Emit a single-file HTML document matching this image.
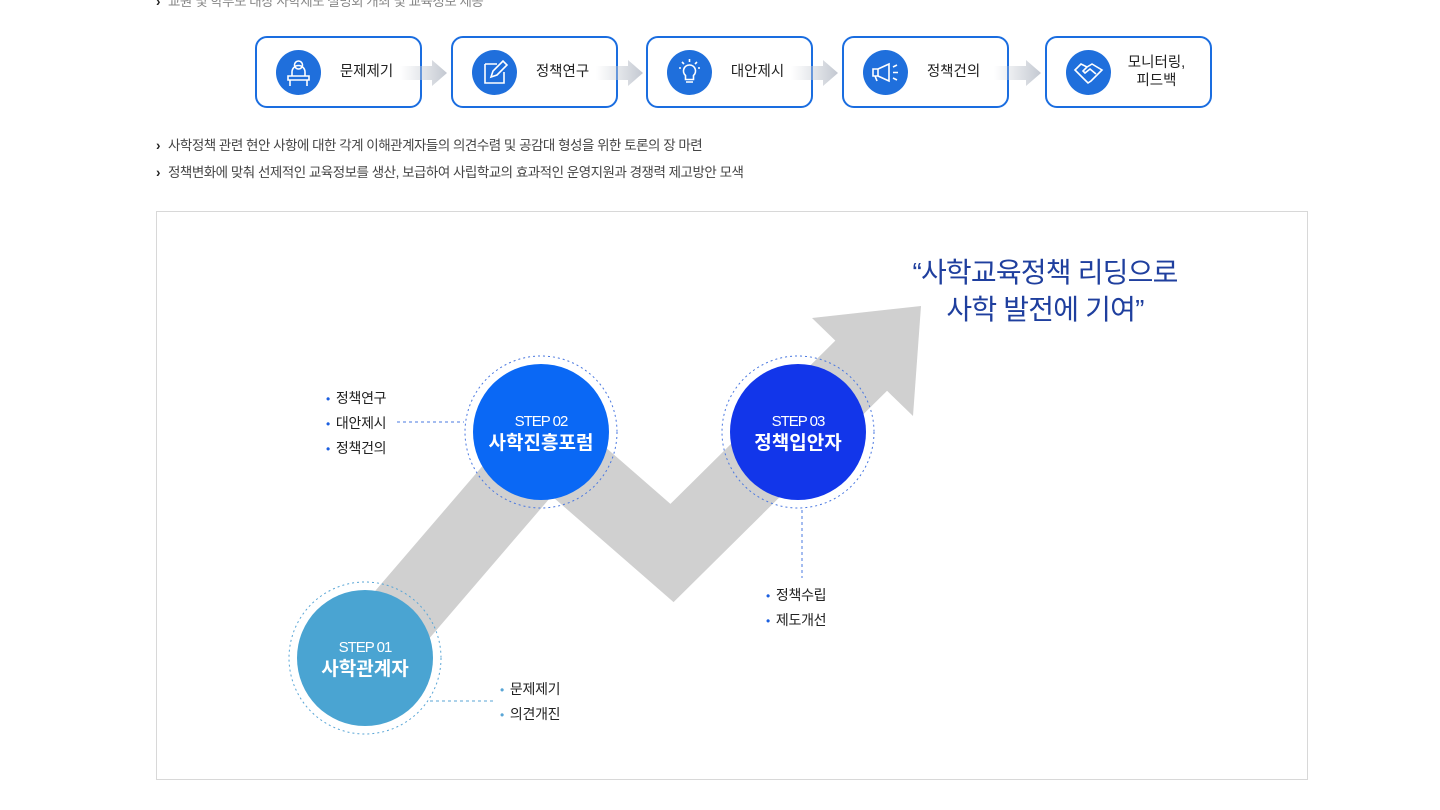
<!DOCTYPE html>
<html><head><meta charset="utf-8"><style>
body{margin:0;width:1440px;height:810px;background:#fff;overflow:hidden;font-family:"Liberation Sans","Noto Sans CJK KR",sans-serif;position:relative}
.abs{position:absolute}
.box{position:absolute;top:36px;border:2px solid #1a6de0;border-radius:12px;box-sizing:border-box;width:167px;height:72px}
.ic{position:absolute;left:19px;top:12px;width:45px;height:45px;border-radius:50%;background:#1f6fdc}
.bt{position:absolute;left:70px;right:14px;top:0;bottom:0;display:flex;align-items:center;justify-content:center;text-align:center;font-size:14.5px;color:#222;line-height:18px}
.arr{position:absolute;top:61px;width:48px;height:24px}
.li{position:absolute;left:156px;font-size:13.5px;color:#444;letter-spacing:-0.5px}
.li:before{content:"›";font-weight:bold;margin-right:8px;color:#222}
.frame{position:absolute;left:156px;top:211px;width:1152px;height:569px;border:1px solid #d8d8d8;box-sizing:border-box}
.lab{position:absolute;font-size:14px;color:#222;line-height:24px;letter-spacing:-0.3px}
.lab span{color:#1b5fe0;margin-right:6px;font-size:12px}
</style></head><body>
<div class="li" style="top:-10px;color:#888">교원 및 학부모 대상 사학제도 설명회 개최 및 교육정보 제공</div>

<div class="box" style="left:255px"><div class="ic"><svg width="45" height="45" viewBox="0 0 45 45" fill="none" stroke="#fff" stroke-width="1.6"><circle cx="22.5" cy="15" r="4"/><path d="M16 26v-4a6.5 6.5 0 0 1 13 0v4"/><path d="M12 26h21v4H12z M14 30v6 M31 30v6"/></svg></div><div class="bt">문제제기</div></div>
<div class="box" style="left:451px"><div class="ic"><svg width="45" height="45" viewBox="0 0 45 45" fill="none" stroke="#fff" stroke-width="1.6"><path d="M13 14h12 M13 14v19h19V22"/><path d="M19 27l2-6 10-10 4 4-10 10z"/></svg></div><div class="bt">정책연구</div></div>
<div class="box" style="left:646px"><div class="ic"><svg width="45" height="45" viewBox="0 0 45 45" fill="none" stroke="#fff" stroke-width="1.6"><path d="M22.5 15a6 6 0 0 0-4 10.5v4h8v-4a6 6 0 0 0-4-10.5z M19 32h7 M22.5 9v3 M15 12l2 2 M30 12l-2 2 M12 18h2 M31 18h2"/></svg></div><div class="bt">대안제시</div></div>
<div class="box" style="left:842px"><div class="ic"><svg width="45" height="45" viewBox="0 0 45 45" fill="none" stroke="#fff" stroke-width="1.6"><path d="M10 19h5v7h-5z M15 19l11-5v17l-11-5 M12 26l2 5 M30 17l4-2 M30 22.5h5 M30 28l4 2"/></svg></div><div class="bt">정책건의</div></div>
<div class="box" style="left:1045px"><div class="ic"><svg width="45" height="45" viewBox="0 0 45 45" fill="none" stroke="#fff" stroke-width="1.6"><path d="M9 20l6-6 6 3 5-3 10 6-3 3-8 8-3 2-4-4-6-6z M21 17l-4 4 2 2 5-4 6 5"/></svg></div><div class="bt">모니터링,<br>피드백</div></div>

<svg class="abs" style="left:0;top:0" width="1440" height="120">
<defs><linearGradient id="g" x1="0" x2="1"><stop offset="0" stop-color="#c9ced6" stop-opacity="0"/><stop offset="1" stop-color="#c3c8d1"/></linearGradient></defs>
<g fill="url(#g)">
<path d="M400 66h32v-6l15 13-15 13v-6h-32z"/>
<path d="M596 66h32v-6l15 13-15 13v-6h-32z"/>
<path d="M791 66h32v-6l15 13-15 13v-6h-32z"/>
<path d="M994 66h32v-6l15 13-15 13v-6h-32z"/>
</g></svg>

<div class="li" style="top:134px">사학정책 관련 현안 사항에 대한 각계 이해관계자들의 의견수렴 및 공감대 형성을 위한 토론의 장 마련</div>
<div class="li" style="top:161px">정책변화에 맞춰 선제적인 교육정보를 생산, 보급하여 사립학교의 효과적인 운영지원과 경쟁력 제고방안 모색</div>

<div class="frame"></div>
<svg class="abs" style="left:0;top:0" width="1440" height="810">
<polyline points="365,658 548,445 672,553 872,355" fill="none" stroke="#d0d0d0" stroke-width="72" stroke-linejoin="miter"/>
<polygon points="812,318 921,306 913,416" fill="#d0d0d0"/>
<g stroke="#4a78e0" stroke-dasharray="3,3" fill="none" stroke-width="1">
<line x1="397" y1="422" x2="464" y2="422"/>
<line x1="802" y1="510" x2="802" y2="578"/>
<line x1="430" y1="701" x2="495" y2="701" stroke="#5aa6d6"/>
<circle cx="541" cy="432" r="76" stroke-dasharray="2,3"/>
<circle cx="798" cy="432" r="76" stroke-dasharray="2,3"/>
<circle cx="365" cy="658" r="76" stroke="#5aa6d6" stroke-dasharray="2,3"/>
</g>
<circle cx="541" cy="432" r="68" fill="#0a68f5"/>
<circle cx="798" cy="432" r="68" fill="#1236ea"/>
<circle cx="365" cy="658" r="68" fill="#4aa4d2"/>
<g fill="#fff" text-anchor="middle" font-family="Liberation Sans, Noto Sans CJK KR, sans-serif">
<text x="541" y="426" font-size="15" letter-spacing="-1">STEP 02</text>
<text x="541" y="449" font-size="19" font-weight="bold">사학진흥포럼</text>
<text x="798" y="426" font-size="15" letter-spacing="-1">STEP 03</text>
<text x="798" y="449" font-size="19" font-weight="bold">정책입안자</text>
<text x="365" y="652" font-size="15" letter-spacing="-1">STEP 01</text>
<text x="365" y="675" font-size="19" font-weight="bold">사학관계자</text>
</g>
<g fill="#1f3f9e" font-size="28" letter-spacing="-0.8" text-anchor="middle" font-family="Liberation Sans, Noto Sans CJK KR, sans-serif">
<text x="1045" y="282">“사학교육정책 리딩으로</text>
<text x="1045" y="319">사학 발전에 기여”</text>
</g>
</svg>
<div class="lab" style="left:326px;top:386px"><span>•</span>정책연구<br><span>•</span>대안제시<br><span>•</span>정책건의</div>
<div class="lab" style="left:766px;top:583px"><span>•</span>정책수립<br><span>•</span>제도개선</div>
<div class="lab" style="left:500px;top:677px"><span style="color:#5aa6d6">•</span>문제제기<br><span style="color:#5aa6d6">•</span>의견개진</div>
</body></html>
